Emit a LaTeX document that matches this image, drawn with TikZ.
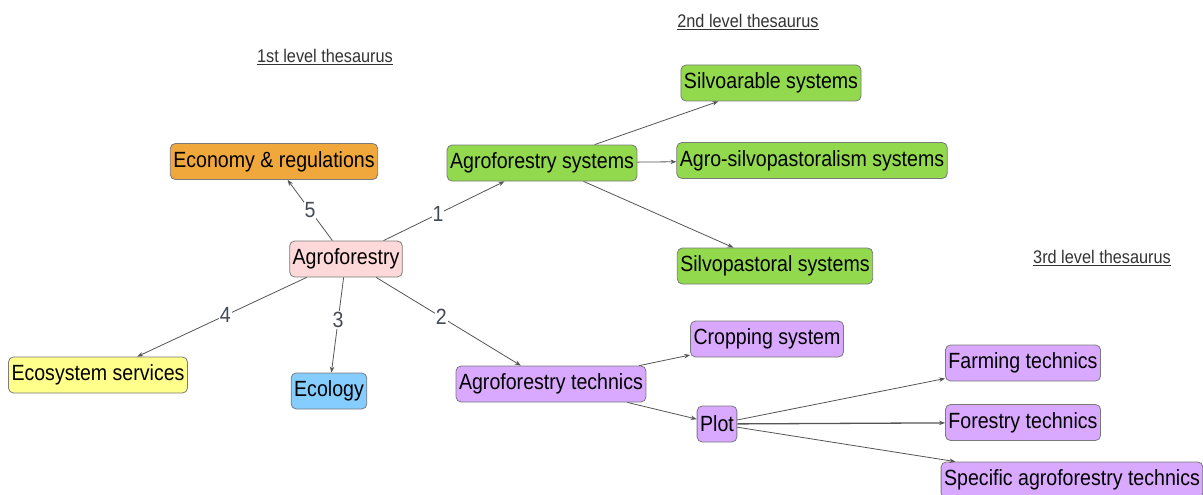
\documentclass[tikz,border=0pt]{standalone}
\usepackage{fontspec}
\setmainfont{Liberation Sans}[FakeStretch=0.89]
\usetikzlibrary{arrows.meta}
\definecolor{cpink}{HTML}{FFD9D9}
\definecolor{corange}{HTML}{F0A83C}
\definecolor{cgreen}{HTML}{92D94E}
\definecolor{cyellow}{HTML}{FFFF8C}
\definecolor{cblue}{HTML}{85CCFF}
\definecolor{cpurple}{HTML}{D9A8FF}
\definecolor{cborder}{HTML}{7A7A7A}
\definecolor{cedge}{HTML}{555555}
\definecolor{clabel}{HTML}{444A55}
\tikzset{
  box/.style={draw=cborder, line width=0.8pt, rounded corners=5pt, minimum height=36pt,
    inner xsep=3pt, inner ysep=0pt, font=\fontsize{22}{24}\selectfont, text=black},
  conn/.style={draw=cedge, line width=0.8pt, -{Stealth[length=6pt,width=4.5pt]}},
  elabel/.style={fill=white, inner sep=1pt, text=clabel, font=\fontsize{22}{24}\selectfont},
  level/.style={text=black!80, font=\fontsize{18.3}{20}\selectfont, inner sep=0pt}
}
\begin{document}
\begin{tikzpicture}[x=1pt,y=-1pt]
\useasboundingbox (0,0) rectangle (1203,495);
\fill[white] (0,0) rectangle (1203,495);
% level labels
\node[level] (l1) at (325,57) {\underline{1st level thesaurus}};
\node[level] (l2) at (748,22) {\underline{2nd level thesaurus}};
\node[level] (l3) at (1102,258) {\underline{3rd level thesaurus}};
% nodes
\node[box, fill=cpink] (af) at (346,259) {Agroforestry};
\node[box, fill=corange] (eco) at (274,161.5) {Economy \& regulations};
\node[box, fill=cgreen] (as) at (542,163) {Agroforestry systems};
\node[box, fill=cyellow] (es) at (98,375) {Ecosystem services};
\node[box, fill=cblue] (ecol) at (329,391) {Ecology};
\node[box, fill=cpurple] (at) at (551,384) {Agroforestry technics};
\node[box, fill=cgreen] (sa) at (771,83) {Silvoarable systems};
\node[box, fill=cgreen] (asp) at (812,160.5) {Agro-silvopastoralism systems};
\node[box, fill=cgreen] (sp) at (775,266) {Silvopastoral systems};
\node[box, fill=cpurple] (cs) at (767,339) {Cropping system};
\node[box, fill=cpurple] (plot) at (717,424) {Plot};
\node[box, fill=cpurple] (ft) at (1023,363) {Farming technics};
\node[box, fill=cpurple] (fo) at (1023,422.5) {Forestry technics};
\node[box, fill=cpurple] (sat) at (1072,480) {Specific agroforestry technics};
% connectors
\draw[conn] (af) -- node[elabel, pos=0.5] {5} (eco);
\draw[conn] (af) -- node[elabel, pos=0.45] {1} (as);
\draw[conn] (af) -- node[elabel, pos=0.48] {4} (es);
\draw[conn] (af) -- node[elabel, pos=0.45] {3} (ecol);
\draw[conn] (af) -- node[elabel, pos=0.45] {2} (at);
\draw[conn] (as) -- (sa);
\draw[conn] (as) -- (asp);
\draw[conn] (as) -- (sp);
\draw[conn] (at) -- (cs);
\draw[conn] (at) -- (plot);
\draw[conn] (plot) -- (ft);
\draw[conn, line width=1.3pt] (plot) -- (fo);
\draw[conn] (plot) -- (sat);
\end{tikzpicture}
\end{document}
